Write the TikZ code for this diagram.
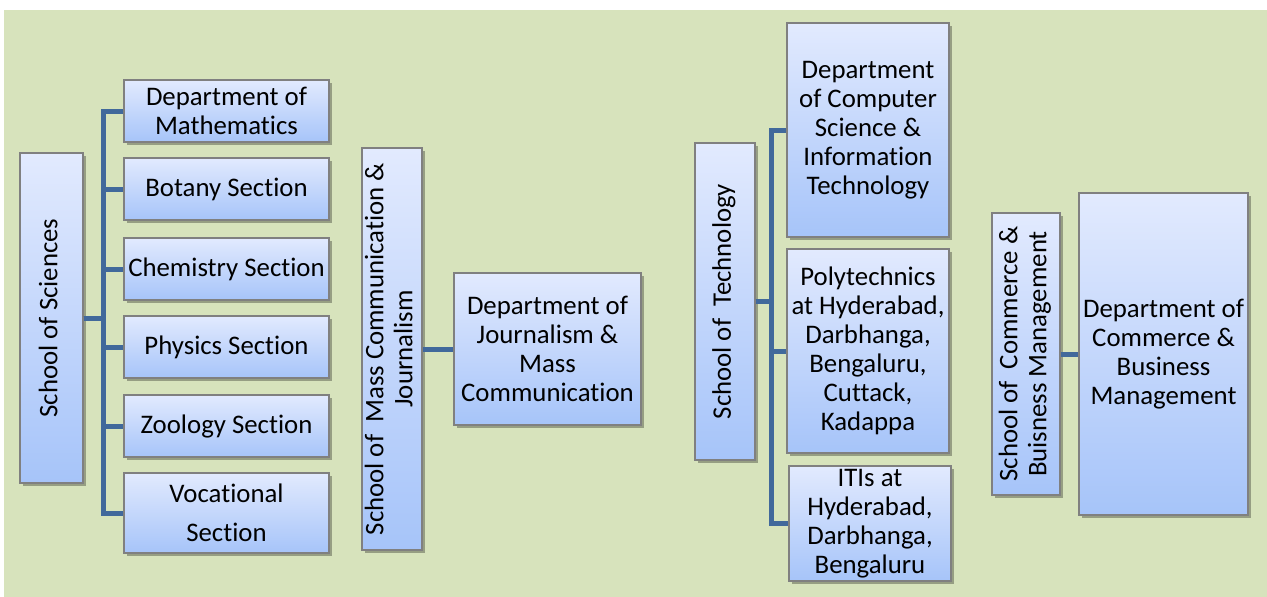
\documentclass[tikz,border=0pt]{standalone}
\usepackage{fontspec}
\setmainfont{Carlito}[Ligatures={NoCommon}]
\usepackage{graphicx}
\usetikzlibrary{shadows}
\definecolor{bggreen}{RGB}{215,227,188}
\definecolor{boxtop}{RGB}{226,234,254}
\definecolor{boxbot}{RGB}{166,196,249}
\definecolor{boxline}{RGB}{128,128,128}
\definecolor{conn}{RGB}{65,105,155}
\tikzset{
  orgbox/.style={draw=boxline, line width=1.2pt, top color=boxtop, bottom color=boxbot,
    inner sep=0pt, align=center, font=\fontsize{26.8}{29}\selectfont,
    drop shadow={shadow xshift=3pt, shadow yshift=-3pt, opacity=0.3, fill=black}},
  link/.style={draw=conn, line width=5pt, line join=miter}
}
\newcommand{\vtext}[1]{\rotatebox{90}{\begin{tabular}{@{}c@{}}#1\end{tabular}}}
\begin{document}
\begin{tikzpicture}[x=1pt,y=-1pt]
\useasboundingbox (0,0) rectangle (1267,597);
\fill[bggreen] (4,10) rectangle (1267,597);
% School of Sciences
\node[orgbox, minimum width=63pt, minimum height=330pt] (sci) at (51.5,318) {\vtext{School of Sciences}};
\node[orgbox, minimum width=205pt, minimum height=62pt] (math) at (226.5,111) {Department of\\Mathematics};
\node[orgbox, minimum width=205pt, minimum height=62pt] (bot) at (226.5,189) {Botany Section};
\node[orgbox, minimum width=205pt, minimum height=62pt] (chem) at (226.5,269) {Chemistry Section};
\node[orgbox, minimum width=205pt, minimum height=62pt] (phys) at (226.5,347) {Physics Section};
\node[orgbox, minimum width=205pt, minimum height=62pt] (zoo) at (226.5,426) {Zoology Section};
\node[orgbox, minimum width=205pt, minimum height=80pt] (voc) at (226.5,513) {Vocational\\[10pt]Section};
\coordinate (t1) at (103,0);
\foreach \c in {math,bot,chem,phys,zoo,voc}
  \draw[link] (sci.east) -- (sci.east -| t1) |- (\c.west);
% Mass communication
\node[orgbox, minimum width=60pt, minimum height=402pt] (mass) at (392,349) {\vtext{School of\ \ Mass Communication \&\\Journalism}};
\node[orgbox, minimum width=187pt, minimum height=152pt] (jour) at (547.5,349) {Department of\\Journalism \&\\Mass\\Communication};
\draw[link] (mass.east) -- (jour.west);
% Technology
\node[orgbox, minimum width=60pt, minimum height=317pt] (tech) at (725,301.5) {\vtext{School of\ \ Technology}};
\node[orgbox, minimum width=162pt, minimum height=214pt] (cs) at (868,130) {Department\\of Computer\\Science \&\\Information\\Technology};
\node[orgbox, minimum width=162pt, minimum height=204pt] (poly) at (868,351) {Polytechnics\\at Hyderabad,\\Darbhanga,\\Bengaluru,\\Cuttack,\\Kadappa};
\node[orgbox, minimum width=162pt, minimum height=115pt] (iti) at (870,523.5) {ITIs at\\Hyderabad,\\Darbhanga,\\Bengaluru};
\coordinate (t2) at (771,0);
\foreach \c in {cs,poly,iti}
  \draw[link] (tech.east) -- (tech.east -| t2) |- (\c.west);
% Commerce
\node[orgbox, minimum width=68pt, minimum height=282pt] (com) at (1026,354) {\vtext{School of\ \ Commerce \&\\Buisness Management}};
\node[orgbox, minimum width=169pt, minimum height=322pt] (comd) at (1163.5,354) {Department of\\Commerce \&\\Business\\Management};
\draw[link] (com.east) -- (comd.west);
\end{tikzpicture}
\end{document}
